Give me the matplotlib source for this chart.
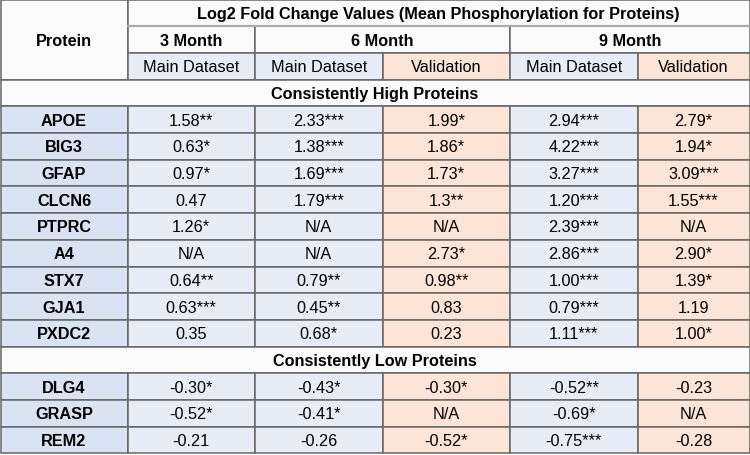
import matplotlib.pyplot as plt
from matplotlib.patches import Rectangle

# Table content
title = "Log2 Fold Change Values (Mean Phosphorylation for Proteins)"
months = ["3 Month", "6 Month", "9 Month"]
subcols = ["Main Dataset", "Main Dataset", "Validation", "Main Dataset", "Validation"]

high_proteins = ["APOE", "BIG3", "GFAP", "CLCN6", "PTPRC", "A4", "STX7", "GJA1", "PXDC2"]
high_values = [
    ["1.58**", "2.33***", "1.99*", "2.94***", "2.79*"],
    ["0.63*", "1.38***", "1.86*", "4.22***", "1.94*"],
    ["0.97*", "1.69***", "1.73*", "3.27***", "3.09***"],
    ["0.47", "1.79***", "1.3**", "1.20***", "1.55***"],
    ["1.26*", "N/A", "N/A", "2.39***", "N/A"],
    ["N/A", "N/A", "2.73*", "2.86***", "2.90*"],
    ["0.64**", "0.79**", "0.98**", "1.00***", "1.39*"],
    ["0.63***", "0.45**", "0.83", "0.79***", "1.19"],
    ["0.35", "0.68*", "0.23", "1.11***", "1.00*"],
]

low_proteins = ["DLG4", "GRASP", "REM2"]
low_values = [
    ["-0.30*", "-0.43*", "-0.30*", "-0.52**", "-0.23"],
    ["-0.52*", "-0.41*", "N/A", "-0.69*", "N/A"],
    ["-0.21", "-0.26", "-0.52*", "-0.75***", "-0.28"],
]

# colours
white = "#fbfbfb"
name_bg = "#dae3f3"
main_bg = "#e8ecf7"
valid_bg = "#fce4d6"
edge = "#666666"

plt.rcParams['font.family'] = ['Liberation Sans', 'DejaVu Sans']

fig = plt.figure(figsize=(7.5, 4.56), dpi=100)
ax = fig.add_axes([0, 0, 1, 1])
ax.set_xlim(0, 750)
ax.set_ylim(456, 0)
ax.axis('off')

col_x = [0.5, 127.5, 255, 382.5, 510, 637.5, 749.5]
rh = 26.7
fs = 11.7


def cell(x0, x1, r0, r1, color, text="", bold=False, ec=edge):
    y0 = r0 * rh + 0.5
    y1 = r1 * rh + 0.5
    ax.add_patch(Rectangle((x0, y0), x1 - x0, y1 - y0, facecolor=color,
                           edgecolor=ec, linewidth=1.1))
    if text:
        ax.text((x0 + x1) / 2, (y0 + y1) / 2 + 0.5, text, ha='center', va='center',
                fontsize=fs, fontweight='bold' if bold else 'normal', color='black')


sub_colors = [main_bg, main_bg, valid_bg, main_bg, valid_bg]

# header
cell(col_x[0], col_x[1], 0, 3, white, "Protein", bold=True)
cell(col_x[1], col_x[6], 0, 1, white, title, bold=True)
cell(col_x[1], col_x[2], 1, 2, white, months[0], bold=True)
cell(col_x[2], col_x[4], 1, 2, white, months[1], bold=True)
cell(col_x[4], col_x[6], 1, 2, white, months[2], bold=True)
ax.plot([col_x[1], col_x[6]], [rh + 0.5, rh + 0.5], color="#aaaaaa", lw=1.6)
for j, s in enumerate(subcols):
    cell(col_x[j + 1], col_x[j + 2], 2, 3, sub_colors[j], s)


def section(start, label, proteins, values):
    cell(col_x[0], col_x[6], start, start + 1, white, label, bold=True)
    for i, (p, vals) in enumerate(zip(proteins, values)):
        r = start + 1 + i
        cell(col_x[0], col_x[1], r, r + 1, name_bg, p, bold=True)
        for j, v in enumerate(vals):
            cell(col_x[j + 1], col_x[j + 2], r, r + 1, sub_colors[j], v)
    return start + 1 + len(proteins)


nxt = section(3, "Consistently High Proteins", high_proteins, high_values)
section(nxt, "Consistently Low Proteins", low_proteins, low_values)

fig.savefig("out.png", dpi=100, facecolor="white")
